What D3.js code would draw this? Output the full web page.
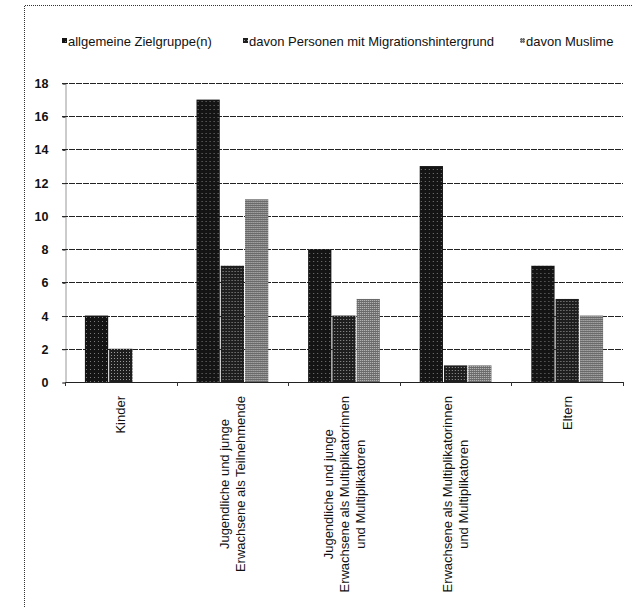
<!DOCTYPE html>
<html>
<head>
<meta charset="utf-8">
<script src="https://cdn.jsdelivr.net/npm/d3@7"></script>
<style>
  html, body { margin: 0; padding: 0; background: #fff; }
  svg { display: block; font-family: "Liberation Sans", Arial, sans-serif; }
</style>
</head>
<body>
<svg id="chart" width="632" height="607"></svg>
<script>
// Zielgruppen (categories), each label split into its printed lines
const categories = [
  "Kinder",
  "Jugendliche TN",
  "Jugendliche Multi",
  "Erwachsene Multi",
  "Eltern"
];
const categoryLines = [
  ["Kinder"],
  ["Jugendliche und junge", "Erwachsene als Teilnehmende"],
  ["Jugendliche und junge", "Erwachsene als Multiplikatorinnen", "und Multiplikatoren"],
  ["Erwachsene als Multiplikatorinnen", "und Multiplikatoren"],
  ["Eltern"]
];
const seriesNames = [
  "allgemeine Zielgruppe(n)",
  "davon Personen mit Migrationshintergrund",
  "davon Muslime"
];
const allgemein  = [4, 17, 8, 13, 7];
const migration  = [2, 7, 4, 1, 5];
const muslime    = [0, 11, 5, 1, 4];
const yTicks = [0, 2, 4, 6, 8, 10, 12, 14, 16, 18];

const seriesValues = [allgemein, migration, muslime];

const svg = d3.select("#chart");

// halftone-like fills for the three series
const defs = svg.append("defs");
function halftone(id, base, dot, size, dots) {
  const p = defs.append("pattern")
    .attr("id", id).attr("patternUnits", "userSpaceOnUse")
    .attr("width", size).attr("height", size);
  p.append("rect").attr("width", size).attr("height", size).attr("fill", base);
  dots.forEach(([dx, dy]) => p.append("rect")
    .attr("x", dx).attr("y", dy).attr("width", 1).attr("height", 1).attr("fill", dot));
}
halftone("fill0", "#141414", "#7a7a7a", 4, [[1, 1]]);
halftone("fill1", "#1e1e1e", "#9a9a9a", 3, [[1, 1]]);
halftone("fill2", "#6a6a6a", "#c4c4c4", 2, [[0, 0]]);
const fills = ["url(#fill0)", "url(#fill1)", "url(#fill2)"];

// outer dotted frame
svg.append("path")
  .attr("d", "M24.5,607 V5.5 H632")
  .attr("fill", "none").attr("stroke", "#333")
  .attr("stroke-width", 1).attr("stroke-dasharray", "1,1");

const plot = { left: 65, right: 623, top: 83, bottom: 382 };

const x0 = d3.scaleBand()
  .domain(categories)
  .range([plot.left, plot.right])
  .paddingInner(0).paddingOuter(0);

const x1 = d3.scaleBand()
  .domain(d3.range(seriesNames.length))
  .range([0, x0.bandwidth()])
  .paddingInner(0)
  .paddingOuter(0.8);

const y = d3.scaleLinear()
  .domain([0, 18])
  .range([plot.bottom, plot.top]);

// horizontal gridlines
svg.append("g").selectAll("line")
  .data(yTicks.filter(d => d > 0))
  .join("line")
  .attr("x1", plot.left - 3).attr("x2", plot.right)
  .attr("y1", d => Math.round(y(d)) + 0.5).attr("y2", d => Math.round(y(d)) + 0.5)
  .attr("stroke", "#222").attr("stroke-width", 1.1)
  .attr("stroke-dasharray", "6,1");

// y axis
const yAxis = d3.axisLeft(y).tickValues(yTicks).tickSize(3).tickPadding(14);
const yg = svg.append("g").attr("transform", `translate(${plot.left + 0.5},0.5)`).call(yAxis);
yg.select(".domain").attr("stroke", "#333").attr("stroke-dasharray", "1,1");
yg.selectAll(".tick line").attr("stroke", "#333");
yg.selectAll(".tick text")
  .attr("font-size", 12.5).attr("font-weight", "bold")
  .attr("font-family", "'Liberation Sans', Arial, sans-serif")
  .attr("fill", "#111");

// bars
const groups = svg.append("g").selectAll("g")
  .data(categories)
  .join("g")
  .attr("transform", d => `translate(${x0(d)},0)`);

groups.selectAll("rect")
  .data((d, i) => seriesValues.map((vals, s) => ({ s, v: vals[i] })))
  .join("rect")
  .attr("x", d => x1(d.s) + 0.5)
  .attr("width", x1.bandwidth() - 1)
  .attr("y", d => y(d.v))
  .attr("height", d => y(0) - y(d.v))
  .attr("fill", d => fills[d.s]);

// x axis baseline with group separators
const xg = svg.append("g");
xg.append("line")
  .attr("x1", plot.left).attr("x2", plot.right)
  .attr("y1", plot.bottom + 0.5).attr("y2", plot.bottom + 0.5)
  .attr("stroke", "#222").attr("stroke-width", 1.2);
xg.selectAll("line.sep")
  .data(categories.map(c => x0(c)).concat([x0.range()[1]]))
  .join("line").attr("class", "sep")
  .attr("x1", d => Math.round(d) + 0.5).attr("x2", d => Math.round(d) + 0.5)
  .attr("y1", plot.bottom).attr("y2", plot.bottom + 4)
  .attr("stroke", "#333");

// rotated category labels, centred multi-line blocks hanging below the axis
const lineGap = 16;
const labelTop = 396;
categories.forEach((c, i) => {
  const lines = categoryLines[i];
  const cx = x0(c) + x0.bandwidth() / 2;
  const g = svg.append("g");
  const texts = lines.map((t, j) => g.append("text")
    .attr("font-size", 13)
    .attr("fill", "#111")
    .attr("text-anchor", "middle")
    .attr("dy", "0.35em")
    .attr("y", (j - (lines.length - 1) / 2) * lineGap)
    .text(t));
  const maxLen = d3.max(texts, t => t.node().getComputedTextLength());
  g.attr("transform", `translate(${cx},${labelTop + maxLen / 2}) rotate(-90)`);
});

// legend
const legendX = [62, 243, 520];
const legend = svg.append("g");
seriesNames.forEach((name, s) => {
  legend.append("rect")
    .attr("x", legendX[s]).attr("y", 38)
    .attr("width", 5).attr("height", 5)
    .attr("fill", fills[s]);
  legend.append("text")
    .attr("x", legendX[s] + 6).attr("y", 46)
    .attr("font-size", 13).attr("fill", "#111")
    .text(name);
});
</script>
</body>
</html>
